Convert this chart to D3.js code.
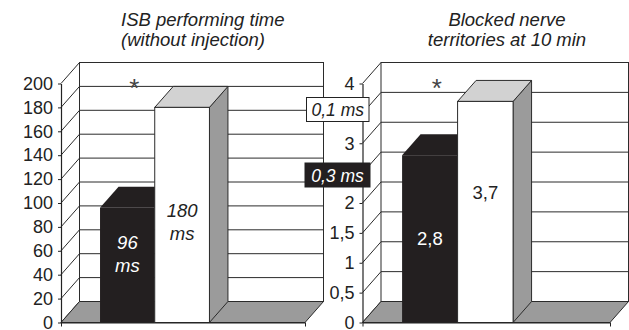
<!DOCTYPE html>
<html>
<head>
<meta charset="utf-8">
<script src="https://cdn.jsdelivr.net/npm/d3@7/dist/d3.min.js"></script>
<style>
  html, body { margin: 0; padding: 0; background: #fff; }
  svg { display: block; font-family: "Liberation Sans", Arial, Helvetica, sans-serif; }
</style>
</head>
<body>
<svg id="chart" width="629" height="330"></svg>
<script>
// Stimulation pulse widths (series), one bar each per panel
const seriesNames = ["0,3 ms", "0,1 ms"];

// Panel 1: ISB performing time (ms)
const performingTitle = ["ISB performing time", "(without injection)"];
const performingTime = [96, 180];
const performingTicks = [0, 20, 40, 60, 80, 100, 120, 140, 160, 180, 200];

// Panel 2: number of blocked nerve territories at 10 min
const territoriesTitle = ["Blocked nerve", "territories at 10 min"];
const nerveTerritories = [2.8, 3.7];
const territoriesTicks = [0, 0.5, 1, 1.5, 2, 2.5, 3, 3.5, 4];
// tick values whose labels sit under the legend boxes
const coveredTicks = [2.5, 3.5];

const comma = v => String(v).replace(".", ",");

const svg = d3.select("#chart");
const depth = { dx: 18.5, dy: -21 };
const yFront0 = 322.5, yFrontMax = 83.5;

const seriesStyle = [
  { front: "#231f20", top: "#231f20", side: "#231f20", stroke: "none", text: "#fff" },
  { front: "#ffffff", top: "#d2d2d2", side: "#9b9b9b", stroke: "#2b2b2b", text: "#222" }
];

const panels = [
  {
    title: performingTitle, titleX: 121, titleAnchor: "start",
    values: performingTime, ticks: performingTicks, hidden: [],
    x0: 61, x1: 305,
    labelLines: v => [String(v), "ms"], labelItalic: true, labelCenter: [57, 84]
  },
  {
    title: territoriesTitle, titleX: 507, titleAnchor: "middle",
    values: nerveTerritories, ticks: territoriesTicks, hidden: coveredTicks,
    x0: 362.5, x1: 610,
    labelLines: v => [comma(v)], labelItalic: false, labelCenter: [1.41, 2.18]
  }
];

panels.forEach(p => {
  const max = d3.max(p.ticks);
  const y = d3.scaleLinear().domain([0, max]).range([yFront0, yFrontMax]);
  const x = d3.scaleBand().domain(d3.range(p.values.length))
    .range([p.x0, p.x1]).paddingInner(0).paddingOuter(1.23).align(0.29);
  const g = svg.append("g");
  const { dx, dy } = depth;

  // title
  g.append("text")
    .attr("text-anchor", p.titleAnchor).attr("font-style", "italic")
    .attr("font-size", 18.5).attr("fill", "#222")
    .selectAll("tspan").data(p.title).join("tspan")
    .attr("x", p.titleX).attr("y", (d, i) => 25.5 + i * 20).text(d => d);

  // back wall
  g.append("rect")
    .attr("x", p.x0 + dx).attr("y", y(max) + dy)
    .attr("width", p.x1 - p.x0).attr("height", y(0) - y(max))
    .attr("fill", "#fff").attr("stroke", "#2b2b2b").attr("stroke-width", 1);

  // gridlines on back wall
  g.append("g").selectAll("line").data(p.ticks.filter(t => t > 0 && t < max)).join("line")
    .attr("x1", p.x0 + dx).attr("x2", p.x1 + dx)
    .attr("y1", t => y(t) + dy).attr("y2", t => y(t) + dy)
    .attr("stroke", "#2b2b2b").attr("stroke-width", 1);

  // side wall diagonals
  g.append("g").selectAll("line").data(p.ticks).join("line")
    .attr("x1", p.x0).attr("x2", p.x0 + dx)
    .attr("y1", t => y(t)).attr("y2", t => y(t) + dy)
    .attr("stroke", "#2b2b2b").attr("stroke-width", 1);

  // floor
  g.append("polygon")
    .attr("points", [[p.x0, y(0)], [p.x1, y(0)], [p.x1 + dx, y(0) + dy], [p.x0 + dx, y(0) + dy]].join(" "))
    .attr("fill", "#9b9b9b").attr("stroke", "#2b2b2b").attr("stroke-width", 1);

  // bars
  const bw = x.bandwidth();
  p.values.forEach((v, i) => {
    const s = seriesStyle[i];
    const xl = x(i), xr = xl + bw, yt = y(v), yb = y(0);
    const bar = g.append("g");
    bar.append("polygon")
      .attr("points", [[xr, yt], [xr + dx, yt + dy], [xr + dx, yb + dy], [xr, yb]].join(" "))
      .attr("fill", s.side).attr("stroke", s.stroke);
    bar.append("polygon")
      .attr("points", [[xl, yt], [xl + dx, yt + dy], [xr + dx, yt + dy], [xr, yt]].join(" "))
      .attr("fill", s.top).attr("stroke", s.stroke);
    bar.append("rect")
      .attr("x", xl).attr("y", yt).attr("width", bw).attr("height", yb - yt)
      .attr("fill", s.front).attr("stroke", s.stroke);

    // value label inside the bar
    const lines = p.labelLines(v);
    const cy = y(p.labelCenter[i]);
    const lh = 23;
    g.append("text")
      .attr("text-anchor", "middle").attr("font-size", 18.5)
      .attr("font-style", p.labelItalic ? "italic" : "normal")
      .attr("fill", s.text)
      .selectAll("tspan").data(lines).join("tspan")
      .attr("x", xl + bw / 2)
      .attr("y", (d, k) => cy + 6.5 + (k - (lines.length - 1) / 2) * lh)
      .text(d => d);
  });

  // significance marker above the first bar
  g.append("text")
    .attr("x", x(0) + bw / 2 + 7).attr("y", y(max) + 13)
    .attr("text-anchor", "middle").attr("font-size", 26).attr("fill", "#444")
    .text("*");

  // front vertical axis
  const ax = g.append("g").attr("transform", `translate(${p.x0},0)`)
    .call(d3.axisLeft(y).tickValues(p.ticks).tickSize(3).tickSizeOuter(0).tickPadding(5)
      .tickFormat(t => p.hidden.includes(t) ? "" : comma(t)));
  ax.select(".domain").attr("stroke", "#222").attr("stroke-width", 1.2);
  ax.selectAll(".tick line").attr("stroke", "#222");
  ax.selectAll(".tick text").attr("font-size", 18).attr("fill", "#222")
    .attr("font-family", "'Liberation Sans', Arial, sans-serif");

  // front horizontal axis
  const xs = d3.scaleLinear().domain([0, 1]).range([p.x0, p.x1]);
  const bx = g.append("g").attr("transform", `translate(0,${y(0)})`)
    .call(d3.axisBottom(xs).tickValues([0, 1]).tickSize(4).tickSizeOuter(0).tickFormat(""));
  bx.select(".domain").attr("stroke", "#222").attr("stroke-width", 1.2);
  bx.selectAll(".tick line").attr("stroke", "#222");
});

// legend boxes for the pulse widths
const legend = [
  { name: seriesNames[1], fill: "#fff", text: "#222", x: 306.5, y: 97.5, w: 62.5, h: 24 },
  { name: seriesNames[0], fill: "#231f20", text: "#fff", x: 305, y: 163, w: 65, h: 24 }
];
const lg = svg.append("g").selectAll("g").data(legend).join("g");
lg.append("rect")
  .attr("x", d => d.x).attr("y", d => d.y).attr("width", d => d.w).attr("height", d => d.h)
  .attr("fill", d => d.fill).attr("stroke", "#222").attr("stroke-width", 1);
lg.append("text")
  .attr("x", d => d.x + d.w / 2).attr("y", d => d.y + d.h / 2 + 6.5)
  .attr("text-anchor", "middle").attr("font-size", 17.5).attr("font-style", "italic")
  .attr("fill", d => d.text).text(d => d.name);
</script>
</body>
</html>
